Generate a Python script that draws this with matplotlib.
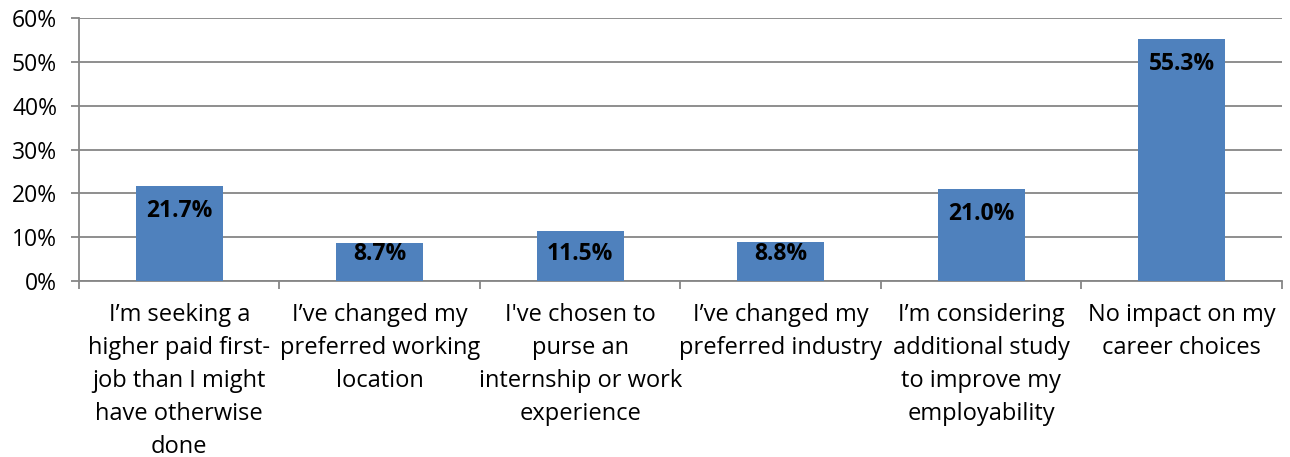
import matplotlib.pyplot as plt
from matplotlib.ticker import PercentFormatter, FixedLocator, NullFormatter
import numpy as np

categories = [
    "I\u2019m seeking a\nhigher paid first-\njob than I might\nhave otherwise\ndone",
    "I\u2019ve changed my\npreferred working\nlocation",
    "I've chosen to\npurse an\ninternship or work\nexperience",
    "I\u2019ve changed my\npreferred industry",
    "I\u2019m considering\nadditional study\nto improve my\nemployability",
    "No impact on my\ncareer choices",
]
values = [21.7, 8.7, 11.5, 8.8, 21.0, 55.3]
labels = ["21.7%", "8.7%", "11.5%", "8.8%", "21.0%", "55.3%"]

plt.rcParams['font.family'] = ['Open Sans', 'DejaVu Sans']

fig = plt.figure(figsize=(12.9, 4.57), dpi=100)
ax = fig.add_axes([0.0612, 0.385, 0.9326, 0.5755])

x = np.arange(len(values))
bars = ax.bar(x, values, width=0.435, color="#4F81BD", zorder=3)

ax.set_xlim(-0.5, len(values) - 0.5)
ax.set_ylim(0, 60)

# labels sit near the top of each bar, but never closer to the axis than ~27px
for b, lab in zip(bars, labels):
    top_px = ax.transData.transform((0, b.get_height()))[1]
    base_px = ax.transData.transform((0, 0))[1]
    off_px = min(25, (top_px - base_px) - 27)
    ax.annotate(lab, (b.get_x() + b.get_width() / 2, b.get_height()),
                xytext=(0, -off_px * 72 / fig.dpi), textcoords="offset points",
                ha="center", va="center", fontsize=16.5, fontweight="bold", zorder=4)

ax.set_yticks(range(0, 61, 10))
ax.yaxis.set_major_formatter(PercentFormatter(decimals=0))
ax.grid(axis="y", color="#868686", linewidth=1.3, zorder=0)

ax.set_xticks(x)
ax.set_xticklabels(categories, fontsize=17, linespacing=1.5, va="top")
ax.tick_params(axis="x", which="major", length=0, pad=16)
ax.xaxis.set_minor_locator(FixedLocator(np.arange(-0.5, len(values), 1.0)))
ax.xaxis.set_minor_formatter(NullFormatter())
ax.tick_params(axis="x", which="minor", length=5.8, color="#868686", width=1.3)
ax.tick_params(axis="y", length=5.8, color="#868686", width=1.3, labelsize=16.5, pad=10)

for s in ["top", "right"]:
    ax.spines[s].set_visible(False)
for s in ["left", "bottom"]:
    ax.spines[s].set_color("#868686")
    ax.spines[s].set_linewidth(1.3)

fig.savefig("out.png", dpi=100)
